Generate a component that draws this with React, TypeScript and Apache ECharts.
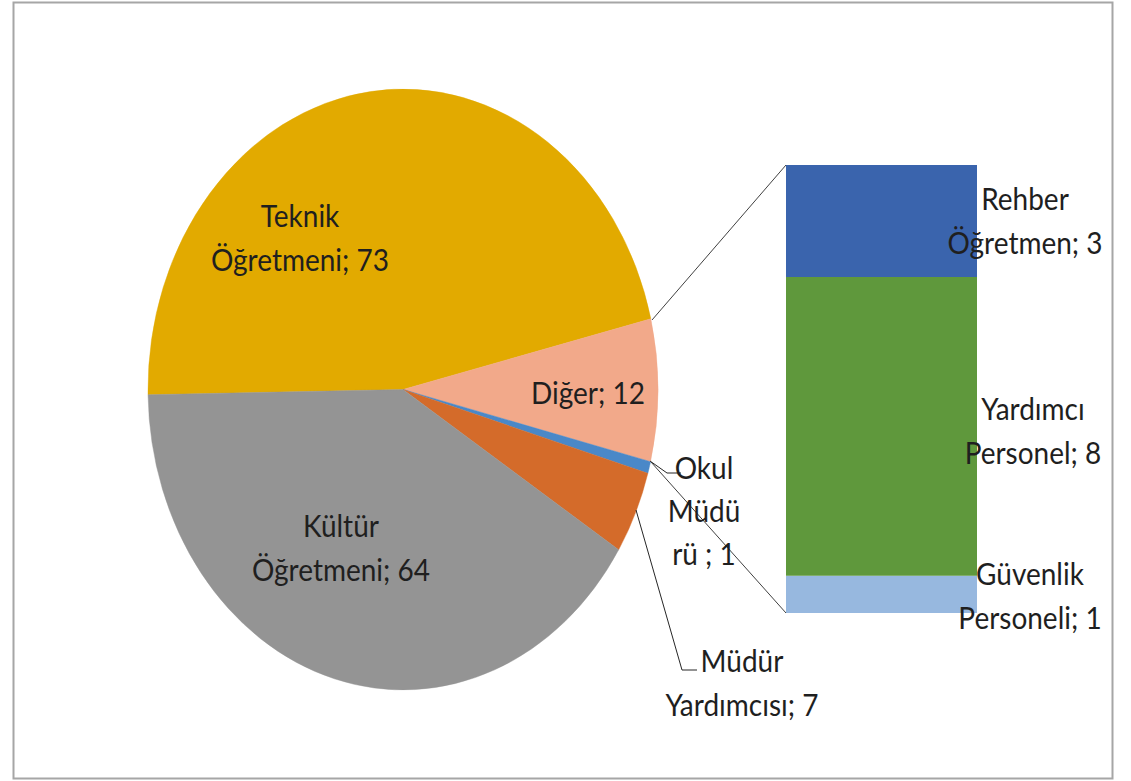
import React, { useEffect, useRef } from "react";
import * as echarts from "echarts";

// ---- data ----
const pieNames = ["Teknik\nÖğretmeni", "Diğer", "Okul\nMüdü\nrü ", "Müdür\nYardımcısı", "Kültür\nÖğretmeni"];
const pieValues = [73, 12, 1, 7, 64];
const barNames = ["Güvenlik\nPersoneli", "Yardımcı\nPersonel", "Rehber\nÖğretmen"];
const barValues = [1, 8, 3];

// ---- styles ----
const pieColors = ["#E2AA00", "#F2A98A", "#4A88C8", "#D46B2A", "#949494"];
const barColors = ["#97B8DF", "#5F983C", "#3A64AD"];
const pieLabelPos = [
  [300, 237],
  [588, 392],
  [704, 510],
  [742, 682],
  [341, 547],
];
const barLabelPos = [
  [1030, 595],
  [1033, 430],
  [1025, 220],
];

const CX = 403;
const CY = 389.5;
const RX = 255;
const RY = 300.5;
const START_DEG = 179;
const FONT = "Lato, 'Liberation Sans', sans-serif";
const FS = 28;
const SY = 1.08;
const LH = 40;
const TXT = "#1F1F1F";

export default function App() {
  const ref = useRef<HTMLDivElement>(null);
  useEffect(() => {
    const chart = echarts.init(ref.current!, null, { renderer: "svg" });
    const total = pieValues.reduce((a, b) => a + b, 0);
    const starts: number[] = [];
    let acc = 0;
    pieValues.forEach((v) => {
      starts.push(acc);
      acc += v;
    });
    const barTotal = barValues.reduce((a, b) => a + b, 0);

    const mkText = (text: string, x: number, y: number) => ({
      type: "text",
      x,
      y,
      scaleY: SY,
      z: 100,
      style: {
        text,
        fill: TXT,
        font: `${FS}px ${FONT}`,
        fontSize: FS,
        fontFamily: FONT,
        align: "center",
        verticalAlign: "middle",
        lineHeight: LH,
      },
    });

    const graphic: any[] = [
      {
        type: "rect",
        z: 0,
        shape: { x: 13.5, y: 2.5, width: 1099, height: 776 },
        style: { fill: "none", stroke: "#A6A6A6", lineWidth: 2 },
      },
      {
        type: "line",
        z: 50,
        shape: { x1: 652, y1: 320, x2: 786, y2: 165 },
        style: { stroke: "#404040", lineWidth: 1 },
      },
      {
        type: "line",
        z: 50,
        shape: { x1: 651, y1: 462, x2: 786, y2: 613 },
        style: { stroke: "#404040", lineWidth: 1 },
      },
      {
        type: "polyline",
        z: 50,
        shape: { points: [[650, 461], [667, 473], [681, 473]] },
        style: { stroke: "#262626", lineWidth: 1, fill: "none" },
      },
      {
        type: "polyline",
        z: 50,
        shape: { points: [[636, 510], [682, 670], [697, 670]] },
        style: { stroke: "#262626", lineWidth: 1, fill: "none" },
      },
    ];
    pieNames.forEach((n, i) => {
      graphic.push(mkText(`${n}; ${pieValues[i]}`, pieLabelPos[i][0], pieLabelPos[i][1]));
    });
    barNames.forEach((n, i) => {
      graphic.push(mkText(`${n}; ${barValues[i]}`, barLabelPos[i][0], barLabelPos[i][1]));
    });

    chart.setOption({
      animation: false,
      grid: { left: 786, top: 165, width: 191, height: 448 },
      xAxis: { type: "category", data: ["Diğer"], show: false },
      yAxis: { type: "value", min: 0, max: barTotal, show: false },
      series: [
        {
          type: "custom",
          coordinateSystem: "none",
          data: pieValues.map((v, i) => [i, v]),
          renderItem: (params: any, api: any) => {
            const i = params.dataIndex;
            const v = api.value(1);
            const a0 = ((START_DEG + (starts[i] / total) * 360) * Math.PI) / 180;
            const a1 = a0 + (v / total) * Math.PI * 2;
            return {
              type: "group",
              x: CX,
              y: CY,
              scaleY: RY / RX,
              children: [
                {
                  type: "sector",
                  shape: { cx: 0, cy: 0, r: RX, r0: 0, startAngle: a0, endAngle: a1, clockwise: true },
                  style: { fill: pieColors[i], stroke: pieColors[i], lineWidth: 0.4 },
                },
              ],
            };
          },
        },
        ...barValues.map((v, i) => ({
          type: "bar",
          stack: "d",
          name: barNames[i],
          data: [v],
          barWidth: "100%",
          itemStyle: { color: barColors[i] },
        })),
      ],
      graphic,
    });
    return () => chart.dispose();
  }, []);
  return (
    <div
      ref={ref}
      style={{ position: "absolute", left: 0, top: 0, width: 1131, height: 781, background: "#fff" }}
    />
  );
}
